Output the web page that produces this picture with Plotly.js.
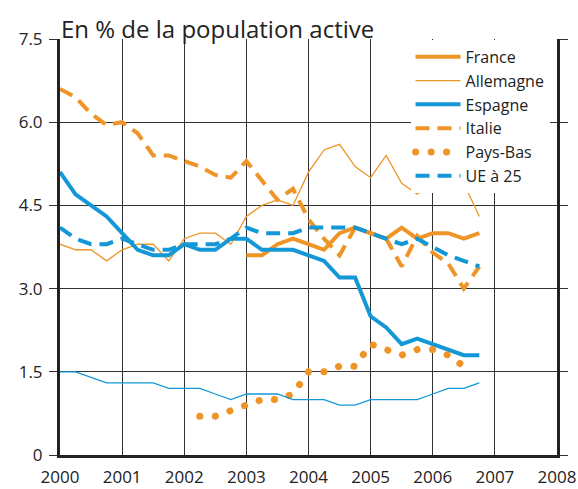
<!DOCTYPE html>
<html>
<head>
<meta charset="utf-8">
<script src="https://cdn.plot.ly/plotly-3.0.1.min.js"></script>
<style>
html,body{margin:0;padding:0;background:#fff;}
#chart{width:578px;height:489px;}
</style>
</head>
<body>
<div id="chart"></div>
<script>
// Quarterly observations, 2000 Q1 .. 2006 Q4
const quarters = [2000, 2000.25, 2000.5, 2000.75, 2001, 2001.25, 2001.5, 2001.75,
  2002, 2002.25, 2002.5, 2002.75, 2003, 2003.25, 2003.5, 2003.75,
  2004, 2004.25, 2004.5, 2004.75, 2005, 2005.25, 2005.5, 2005.75,
  2006, 2006.25, 2006.5, 2006.75];

const france = [null, null, null, null, null, null, null, null,
  null, null, null, null, 3.6, 3.6, 3.8, 3.9,
  3.8, 3.7, 4.0, 4.1, 4.0, 3.9, 4.1, 3.9,
  4.0, 4.0, 3.9, 4.0];

const allemagne = [3.8, 3.7, 3.7, 3.5, 3.7, 3.8, 3.8, 3.5,
  3.9, 4.0, 4.0, 3.8, 4.3, 4.5, 4.6, 4.5,
  5.1, 5.5, 5.6, 5.2, 5.0, 5.4, 4.9, 4.7,
  4.9, 4.8, 4.9, 4.3];

const espagne = [5.1, 4.7, 4.5, 4.3, 4.0, 3.7, 3.6, 3.6,
  3.8, 3.7, 3.7, 3.9, 3.9, 3.7, 3.7, 3.7,
  3.6, 3.5, 3.2, 3.2, 2.5, 2.3, 2.0, 2.1,
  2.0, 1.9, 1.8, 1.8];

const italie = [6.6, 6.45, 6.15, 5.95, 6.0, 5.8, 5.4, 5.4,
  5.3, 5.2, 5.05, 5.0, 5.3, 4.95, 4.6, 4.8,
  4.25, 3.9, 3.6, 4.1, 4.0, 3.9, 3.4, 3.95,
  3.65, 3.45, 3.0, 3.4];

const paysBas = [null, null, null, null, null, null, null, null,
  null, 0.7, 0.7, 0.8, 0.9, 1.0, 1.0, 1.1,
  1.5, 1.5, 1.6, 1.6, 2.0, 1.9, 1.8, 1.9,
  1.9, 1.8, 1.6, null];

const ue25 = [4.1, 3.9, 3.8, 3.8, 3.9, 3.8, 3.7, 3.7,
  3.8, 3.8, 3.8, 3.9, 4.1, 4.0, 4.0, 4.0,
  4.1, 4.1, 4.1, 4.1, 4.0, 3.9, 3.8, 3.9,
  3.75, 3.6, 3.5, 3.4];

// thin blue series shown without a legend entry
const autre = [1.5, 1.5, 1.4, 1.3, 1.3, 1.3, 1.3, 1.2,
  1.2, 1.2, 1.1, 1.0, 1.1, 1.1, 1.1, 1.0,
  1.0, 1.0, 0.9, 0.9, 1.0, 1.0, 1.0, 1.0,
  1.1, 1.2, 1.2, 1.3];

const yTickVals = [0, 1.5, 3, 4.5, 6, 7.5];
const yTickText = ['0', '1.5', '3.0', '4.5', '6.0', '7.5'];
const xTickVals = [2000, 2001, 2002, 2003, 2004, 2005, 2006, 2007, 2008];
const xTickText = ['2000', '2001', '2002', '2003', '2004', '2005', '2006', '2007', '2008'];

const ORANGE = '#EF9427';
const BLUE = '#1497D6';
const FONT = '"Open Sans", Lato, sans-serif';

const traces = [
  {x: quarters, y: france, name: 'France', mode: 'lines', line: {color: ORANGE, width: 4}},
  {x: quarters, y: allemagne, name: 'Allemagne', mode: 'lines', line: {color: ORANGE, width: 1.3}},
  {x: quarters, y: espagne, name: 'Espagne', mode: 'lines', line: {color: BLUE, width: 4}},
  {x: quarters, y: italie, name: 'Italie', mode: 'lines', line: {color: ORANGE, width: 4, dash: '14px,8px'}},
  {x: quarters, y: paysBas, name: 'Pays-Bas', mode: 'lines', line: {color: ORANGE, width: 7, dash: '0.1px,15.4px'}},
  {x: quarters, y: ue25, name: 'UE à 25', mode: 'lines', line: {color: BLUE, width: 4, dash: '14px,8px'}},
  {x: quarters, y: autre, name: 'Royaume-Uni', mode: 'lines', showlegend: false, line: {color: BLUE, width: 1.3}}
];

const layout = {
  width: 578, height: 489,
  margin: {l: 60, r: 21, t: 39, b: 34},
  paper_bgcolor: '#fff', plot_bgcolor: '#fff',
  font: {family: FONT, size: 16, color: '#222'},
  title: {
    text: 'En % de la population active',
    font: {family: FONT, size: 24, color: '#222'},
    xref: 'paper', x: 0, xanchor: 'left',
    yref: 'paper', y: 1, yanchor: 'bottom', pad: {b: 1, l: 1}
  },
  showlegend: true,
  legend: {
    x: 0.985, xanchor: 'right', y: 0.998, yanchor: 'top',
    bgcolor: '#fff', borderwidth: 0,
    font: {family: FONT, size: 16, color: '#222'},
    tracegroupgap: 0, itemwidth: 45
  },
  xaxis: {
    range: [2000, 2008], tickvals: xTickVals, ticktext: xTickText,
    showgrid: true, gridcolor: '#333', gridwidth: 1,
    showline: true, linecolor: '#222', linewidth: 3,
    ticks: '', zeroline: false, fixedrange: true, ticklabelstandoff: 5,
    tickfont: {family: FONT, size: 17, color: '#222'}
  },
  yaxis: {
    range: [0, 7.5], tickvals: yTickVals, ticktext: yTickText,
    showgrid: true, gridcolor: '#333', gridwidth: 1,
    showline: true, linecolor: '#222', linewidth: 3, mirror: 'ticks',
    ticks: 'outside', ticklen: 8, tickcolor: '#333', tickwidth: 1,
    zeroline: false, fixedrange: true, ticklabelstandoff: 3,
    tickfont: {family: FONT, size: 17, color: '#222'}
  }
};

Plotly.newPlot('chart', traces, layout, {displayModeBar: false, staticPlot: true}).then(function(gd){
  const fix = function(){
    document.querySelectorAll('path').forEach(function(p){
      const d = p.style.strokeDasharray || '';
      if (d.indexOf('0.1') === 0) { p.style.strokeLinecap = 'round'; }
    });
  };
  fix();
  gd.on && gd.on('plotly_afterplot', fix);
});
</script>
</body>
</html>
